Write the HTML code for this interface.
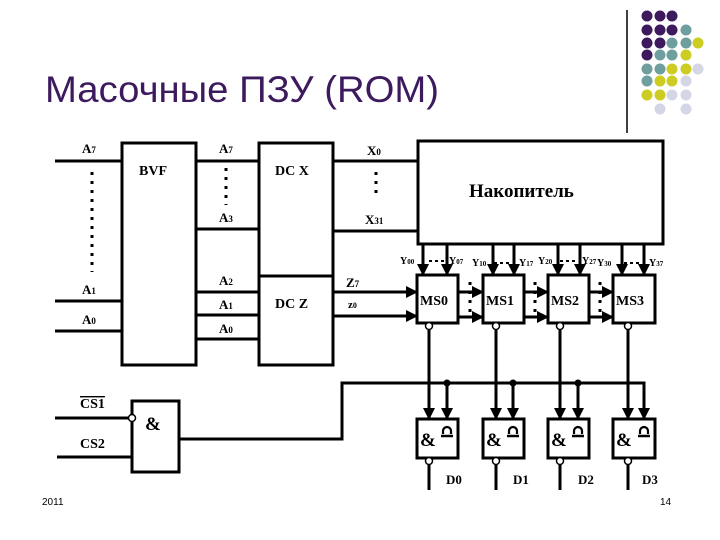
<!DOCTYPE html>
<html><head><meta charset="utf-8"><style>
html,body{margin:0;padding:0;background:#fff;}
svg{display:block;}
.t{font-family:"Liberation Serif",serif;font-weight:bold;fill:#000;}
</style></head><body>
<svg width="720" height="540" viewBox="0 0 720 540" xmlns="http://www.w3.org/2000/svg">
<defs><marker id="b" markerWidth="12" markerHeight="12" refX="11" refY="6" orient="auto" markerUnits="userSpaceOnUse"><path d="M0,0 L12,6 L0,12 z" fill="#000"/></marker>
<g id="sym"><path d="M-4,2 L-4,-1 A4,4 0 1,1 4,-1 L4,2" fill="none" stroke="#000" stroke-width="2.2"/><line x1="-6" y1="4" x2="6" y2="4" stroke="#000" stroke-width="2.5"/></g></defs>
<g>
<circle cx="647" cy="16" r="5.5" fill="#3d1a5e"/><circle cx="660" cy="16" r="5.5" fill="#3d1a5e"/><circle cx="672" cy="16" r="5.5" fill="#3d1a5e"/>
<circle cx="647" cy="30" r="5.5" fill="#3d1a5e"/><circle cx="660" cy="30" r="5.5" fill="#3d1a5e"/><circle cx="672" cy="30" r="5.5" fill="#3d1a5e"/><circle cx="686" cy="30" r="5.5" fill="#6e9e9e"/>
<circle cx="647" cy="43" r="5.5" fill="#3d1a5e"/><circle cx="660" cy="43" r="5.5" fill="#3d1a5e"/><circle cx="672" cy="43" r="5.5" fill="#6e9e9e"/><circle cx="686" cy="43" r="5.5" fill="#6e9e9e"/><circle cx="698" cy="43" r="5.5" fill="#cccc22"/>
<circle cx="647" cy="55" r="5.5" fill="#3d1a5e"/><circle cx="660" cy="55" r="5.5" fill="#6e9e9e"/><circle cx="672" cy="55" r="5.5" fill="#6e9e9e"/><circle cx="686" cy="55" r="5.5" fill="#cccc22"/>
<circle cx="647" cy="69" r="5.5" fill="#6e9e9e"/><circle cx="660" cy="69" r="5.5" fill="#6e9e9e"/><circle cx="672" cy="69" r="5.5" fill="#cccc22"/><circle cx="686" cy="69" r="5.5" fill="#cccc22"/><circle cx="698" cy="69" r="5.5" fill="#d4d6e6"/>
<circle cx="647" cy="81" r="5.5" fill="#6e9e9e"/><circle cx="660" cy="81" r="5.5" fill="#cccc22"/><circle cx="672" cy="81" r="5.5" fill="#cccc22"/><circle cx="686" cy="81" r="5.5" fill="#d4d6e6"/>
<circle cx="647" cy="95" r="5.5" fill="#cccc22"/><circle cx="660" cy="95" r="5.5" fill="#cccc22"/><circle cx="672" cy="95" r="5.5" fill="#d4d6e6"/><circle cx="686" cy="95" r="5.5" fill="#d4d6e6"/>
<circle cx="660" cy="109" r="5.5" fill="#d4d6e6"/><circle cx="686" cy="109" r="5.5" fill="#d4d6e6"/>
</g>
<line x1="627" y1="10" x2="627" y2="133" stroke="#000" stroke-width="1.5"/>
<text x="45" y="102" font-family="Liberation Sans, sans-serif" font-size="37" fill="#3d1a5e" textLength="394" lengthAdjust="spacingAndGlyphs">Масочные ПЗУ (ROM)</text>

<g stroke="#000" stroke-width="3" fill="none">
<rect x="122" y="143" width="74" height="222"/>
<rect x="259" y="143" width="74" height="133"/>
<rect x="259" y="276" width="74" height="89"/>
<rect x="418" y="141" width="245" height="103"/>
<line x1="55" y1="161" x2="122" y2="161"/><line x1="55" y1="301" x2="122" y2="301"/><line x1="55" y1="331" x2="122" y2="331"/>
<line x1="196" y1="161" x2="259" y2="161"/><line x1="196" y1="229" x2="259" y2="229"/><line x1="196" y1="292" x2="259" y2="292"/><line x1="196" y1="315" x2="259" y2="315"/><line x1="196" y1="339" x2="259" y2="339"/>
<line x1="333" y1="161" x2="418" y2="161"/><line x1="333" y1="231" x2="418" y2="231"/>
<line x1="333" y1="292" x2="417" y2="292" marker-end="url(#b)"/><line x1="333" y1="316" x2="417" y2="316" marker-end="url(#b)"/>
<rect x="417" y="275" width="41" height="48"/><rect x="483" y="275" width="41" height="48"/><rect x="548" y="275" width="41" height="48"/><rect x="613" y="275" width="42" height="48"/>
<rect x="417" y="419" width="41" height="39"/><rect x="483" y="419" width="41" height="39"/><rect x="548" y="419" width="41" height="39"/><rect x="613" y="419" width="42" height="39"/>
<rect x="132" y="401" width="47" height="71"/>
<line x1="55" y1="418" x2="129" y2="418"/><line x1="57" y1="457" x2="132" y2="457"/>
<polyline points="179,439 342,439 342,383 644,383 644,419" marker-end="url(#b)"/>
</g>
<g stroke="#000" stroke-width="3" marker-end="url(#b)">
<line x1="423" y1="244" x2="423" y2="275"/><line x1="447" y1="244" x2="447" y2="275"/>
<line x1="493" y1="244" x2="493" y2="275"/><line x1="514" y1="244" x2="514" y2="275"/>
<line x1="558" y1="244" x2="558" y2="275"/><line x1="580" y1="244" x2="580" y2="275"/>
<line x1="622" y1="244" x2="622" y2="275"/><line x1="644" y1="244" x2="644" y2="275"/>
<line x1="458" y1="292" x2="483" y2="292"/><line x1="458" y1="317" x2="483" y2="317"/>
<line x1="524" y1="292" x2="548" y2="292"/><line x1="524" y1="317" x2="548" y2="317"/>
<line x1="589" y1="292" x2="613" y2="292"/><line x1="589" y1="317" x2="613" y2="317"/>
<line x1="429" y1="329" x2="429" y2="419"/><line x1="496" y1="329" x2="496" y2="419"/><line x1="560" y1="329" x2="560" y2="419"/><line x1="628" y1="329" x2="628" y2="419"/>
<line x1="447" y1="383" x2="447" y2="419"/><line x1="513" y1="383" x2="513" y2="419"/><line x1="578" y1="383" x2="578" y2="419"/>
</g>
<g stroke="#000" stroke-width="3">
<line x1="429" y1="464" x2="429" y2="490"/><line x1="496" y1="464" x2="496" y2="490"/><line x1="560" y1="464" x2="560" y2="490"/><line x1="628" y1="464" x2="628" y2="490"/>
</g>
<g fill="#000"><circle cx="447" cy="383" r="3.5"/><circle cx="513" cy="383" r="3.5"/><circle cx="578" cy="383" r="3.5"/></g>
<g fill="#fff" stroke="#000" stroke-width="1.5">
<circle cx="429" cy="326" r="3.5"/><circle cx="496" cy="326" r="3.5"/><circle cx="560" cy="326" r="3.5"/><circle cx="628" cy="326" r="3.5"/>
<circle cx="429" cy="461" r="3.5"/><circle cx="496" cy="461" r="3.5"/><circle cx="560" cy="461" r="3.5"/><circle cx="628" cy="461" r="3.5"/>
<circle cx="132" cy="418" r="3.5"/>
</g>
<g stroke="#000" stroke-width="3" stroke-dasharray="3,6">
<line x1="92" y1="172" x2="92" y2="272"/><line x1="226" y1="168" x2="226" y2="205"/><line x1="376" y1="172" x2="376" y2="197"/>
<line x1="470" y1="282" x2="470" y2="314"/><line x1="535" y1="282" x2="535" y2="314"/><line x1="600" y1="282" x2="600" y2="314"/>
</g>
<g stroke="#000" stroke-width="2" stroke-dasharray="3,3">
<line x1="429" y1="261" x2="445" y2="261"/><line x1="494" y1="263" x2="512" y2="263"/><line x1="560" y1="261" x2="578" y2="261"/><line x1="624" y1="263" x2="642" y2="263"/>
</g>
<use href="#sym" x="447" y="432"/><use href="#sym" x="513" y="432"/><use href="#sym" x="578" y="432"/><use href="#sym" x="644" y="432"/>
<g class="t" font-size="13">
<text x="82" y="153">A<tspan font-size="9">7</tspan></text>
<text x="82" y="294">A<tspan font-size="9">1</tspan></text>
<text x="82" y="324">A<tspan font-size="9">0</tspan></text>
<text x="219" y="153">A<tspan font-size="9">7</tspan></text>
<text x="219" y="222">A<tspan font-size="9">3</tspan></text>
<text x="219" y="285">A<tspan font-size="9">2</tspan></text>
<text x="219" y="309">A<tspan font-size="9">1</tspan></text>
<text x="219" y="333">A<tspan font-size="9">0</tspan></text>
<text x="367" y="155">X<tspan font-size="9">0</tspan></text>
<text x="365" y="224">X<tspan font-size="9">31</tspan></text>
<text x="346" y="287">Z<tspan font-size="9">7</tspan></text>
<text x="348" y="308" font-size="11">z<tspan font-size="8">0</tspan></text>
<text x="139" y="175" font-size="14">BVF</text>
<text x="275" y="175" font-size="14">DC X</text>
<text x="275" y="308" font-size="14">DC Z</text>
<text x="469" y="197" font-size="19">Накопитель</text>
<text x="420" y="305" font-size="14">MS0</text><text x="486" y="305" font-size="14">MS1</text><text x="551" y="305" font-size="14">MS2</text><text x="616" y="305" font-size="14">MS3</text>
<text x="80" y="408" font-size="14" text-decoration="overline">CS1</text>
<text x="80" y="448" font-size="14">CS2</text>
<text x="145" y="430" font-size="19">&amp;</text>
<text x="420" y="446" font-size="19">&amp;</text><text x="486" y="446" font-size="19">&amp;</text><text x="551" y="446" font-size="19">&amp;</text><text x="616" y="446" font-size="19">&amp;</text>
<text x="446" y="484" font-size="13">D0</text><text x="513" y="484" font-size="13">D1</text><text x="578" y="484" font-size="13">D2</text><text x="642" y="484" font-size="13">D3</text>
<text x="400" y="264" font-size="10">Y<tspan font-size="7">00</tspan></text>
<text x="449" y="264" font-size="10">Y<tspan font-size="7">07</tspan></text>
<text x="472" y="266" font-size="10">Y<tspan font-size="7">10</tspan></text>
<text x="519" y="266" font-size="10">Y<tspan font-size="7">17</tspan></text>
<text x="538" y="264" font-size="10">Y<tspan font-size="7">20</tspan></text>
<text x="582" y="264" font-size="10">Y<tspan font-size="7">27</tspan></text>
<text x="597" y="266" font-size="10">Y<tspan font-size="7">30</tspan></text>
<text x="649" y="266" font-size="10">Y<tspan font-size="7">37</tspan></text>
</g>
<text x="42" y="505" font-family="Liberation Sans, sans-serif" font-size="10" fill="#000">2011</text>
<text x="660" y="505" font-family="Liberation Sans, sans-serif" font-size="10" fill="#000">14</text>
</svg>
</body></html>
